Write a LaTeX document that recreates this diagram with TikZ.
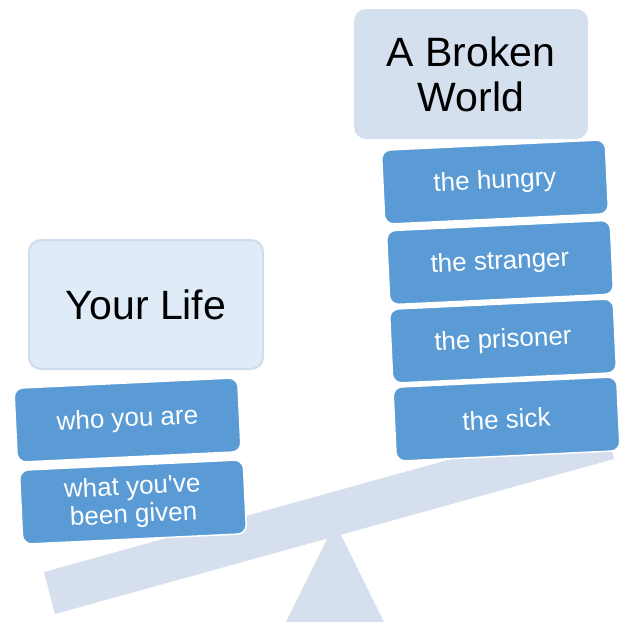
\documentclass[tikz,border=0pt]{standalone}
\usepackage{fontspec}
\setmainfont{Liberation Sans}
\definecolor{itemblue}{HTML}{5B9BD5}
\definecolor{beamcol}{HTML}{D5DFEE}
\definecolor{lifefill}{HTML}{DFEBF7}
\definecolor{lifeedge}{HTML}{CFDCEE}
\definecolor{worldfill}{HTML}{D5E0EF}
\tikzset{
  itembox/.style={draw=white, line width=1.5pt, fill=itemblue, rounded corners=9pt,
    minimum width=224pt, minimum height=74pt, text=white, inner sep=0pt,
    font=\fontsize{26}{28}\selectfont, align=center, rotate=2.7},
  headbox/.style={rounded corners=12pt, minimum width=234pt, minimum height=129pt,
    inner sep=0pt, align=center, font=\fontsize{41}{45}\selectfont, text=black},
  beamshape/.style={fill=beamcol, draw=none}
}
\begin{document}
\begin{tikzpicture}[x=1pt,y=-1pt]
\useasboundingbox (0,0) rectangle (624,622);
% fulcrum
\fill[beamshape] (286,622) -- (335,523) -- (384,622) -- cycle;
% beam
\fill[beamshape] (44,572) -- (55,614) -- (614,459) -- (603,417) -- cycle;
% left stack
\node[itembox] (l2) at (133,502) {what you\textquotesingle ve\\been given};
\node[itembox] (l1) at (127.5,420) {who you are};
% right stack
\node[itembox] (r4) at (506.5,419) {the sick};
\node[itembox] (r3) at (503,341) {the prisoner};
\node[itembox] (r2) at (500,262.5) {the stranger};
\node[itembox] (r1) at (495,182) {the hungry};
% headings
\node[headbox, fill=lifefill, draw=lifeedge, line width=2pt] (yl) at (146,304.5) {Your Life};
\node[headbox, fill=worldfill, minimum height=130pt] (bw) at (471,74) {A Broken\\World};
\end{tikzpicture}
\end{document}
